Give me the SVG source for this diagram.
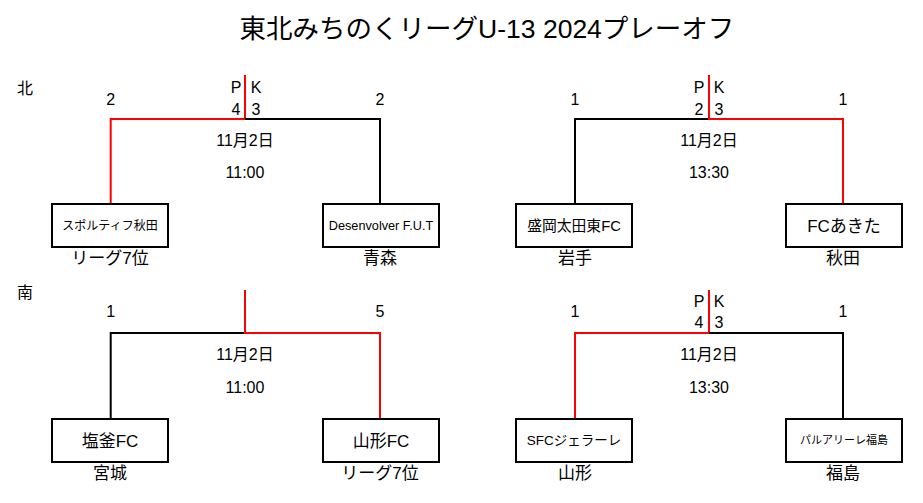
<svg xmlns="http://www.w3.org/2000/svg" width="923" height="503" viewBox="0 0 923 503">
<style>
text{font-family:"Liberation Sans","Noto Sans CJK JP",sans-serif;fill:#000}
.t{font-size:26.5px}
.n{font-size:16px;text-anchor:middle}
.d{font-size:16px;text-anchor:middle}
.lbl{font-size:17px;text-anchor:middle}
.reg{font-size:16px}
.bt{text-anchor:middle}
.box{fill:#fff;stroke:#000;stroke-width:2}
.k{fill:none;stroke:#000;stroke-width:2}
.r{fill:none;stroke:#f00;stroke-width:2}
</style>
<rect width="923" height="503" fill="#fff"/>
<text class="t" x="487" y="38" text-anchor="middle">東北みちのくリーグU-13 2024プレーオフ</text>
<text class="reg" x="17" y="94">北</text>
<text class="reg" x="17" y="298">南</text>
<g id="connectors">
<path class="r" d="M110.7,204 V119 H245 V75"/>
<path class="k" d="M245,119 H380 V204"/>
<path class="k" d="M575,204 V119 H709"/>
<path class="r" d="M709,75 V119 H843 V204"/>
<path class="k" d="M110.7,419 V333 H245"/>
<path class="r" d="M245,290 V333 H380 V419"/>
<path class="r" d="M575,419 V333 H709 V290"/>
<path class="k" d="M709,333 H843 V419"/>
</g>
<g id="match-n1">
<text class="n" x="110.7" y="105">2</text>
<text class="n" x="380" y="105">2</text>
<text class="n" x="236" y="93">P</text>
<text class="n" x="256" y="93">K</text>
<text class="n" x="236" y="115">4</text>
<text class="n" x="256" y="115">3</text>
<text class="d" x="245" y="146">11月2日</text>
<text class="d" x="245" y="178">11:00</text>
</g>
<g id="match-n2">
<text class="n" x="575" y="105">1</text>
<text class="n" x="843" y="105">1</text>
<text class="n" x="699" y="93">P</text>
<text class="n" x="719" y="93">K</text>
<text class="n" x="699" y="115">2</text>
<text class="n" x="719" y="115">3</text>
<text class="d" x="709" y="146">11月2日</text>
<text class="d" x="709" y="178">13:30</text>
</g>
<g id="match-s1">
<text class="n" x="110.7" y="317">1</text>
<text class="n" x="380" y="317">5</text>
<text class="d" x="245" y="360">11月2日</text>
<text class="d" x="245" y="393">11:00</text>
</g>
<g id="match-s2">
<text class="n" x="575" y="317">1</text>
<text class="n" x="843" y="317">1</text>
<text class="n" x="699" y="307">P</text>
<text class="n" x="719" y="307">K</text>
<text class="n" x="699" y="328">4</text>
<text class="n" x="719" y="328">3</text>
<text class="d" x="709" y="360">11月2日</text>
<text class="d" x="709" y="393">13:30</text>
</g>
<g id="team-sportiv">
<rect class="box" x="52" y="204" width="116" height="43"/>
<text class="bt" x="110" y="230" font-size="12">スポルティフ秋田</text>
<text class="lbl" x="110" y="264">リーグ7位</text>
</g>
<g id="team-desenvolver">
<rect class="box" x="323" y="204" width="116" height="43"/>
<text class="bt" x="381" y="230" font-size="12.7">Desenvolver F.U.T</text>
<text class="lbl" x="380" y="264">青森</text>
</g>
<g id="team-morioka">
<rect class="box" x="516" y="204" width="116" height="43"/>
<text class="bt" x="574" y="231" font-size="14.8">盛岡太田東FC</text>
<text class="lbl" x="575" y="264">岩手</text>
</g>
<g id="team-fcakita">
<rect class="box" x="786" y="204" width="116" height="43"/>
<text class="bt" x="844" y="232" font-size="17">FCあきた</text>
<text class="lbl" x="843" y="264">秋田</text>
</g>
<g id="team-shiogama">
<rect class="box" x="52" y="419" width="116" height="43"/>
<text class="bt" x="110" y="447" font-size="17">塩釜FC</text>
<text class="lbl" x="110" y="479">宮城</text>
</g>
<g id="team-yamagata">
<rect class="box" x="323" y="419" width="116" height="43"/>
<text class="bt" x="381" y="447" font-size="17">山形FC</text>
<text class="lbl" x="380" y="479">リーグ7位</text>
</g>
<g id="team-gelare">
<rect class="box" x="516" y="419" width="116" height="43"/>
<text class="bt" x="574" y="445" font-size="13.5">SFCジェラーレ</text>
<text class="lbl" x="575" y="479">山形</text>
</g>
<g id="team-parualire">
<rect class="box" x="786" y="419" width="116" height="43"/>
<text class="bt" x="844" y="444" font-size="11">パルアリーレ福島</text>
<text class="lbl" x="843" y="479">福島</text>
</g>
</svg>
